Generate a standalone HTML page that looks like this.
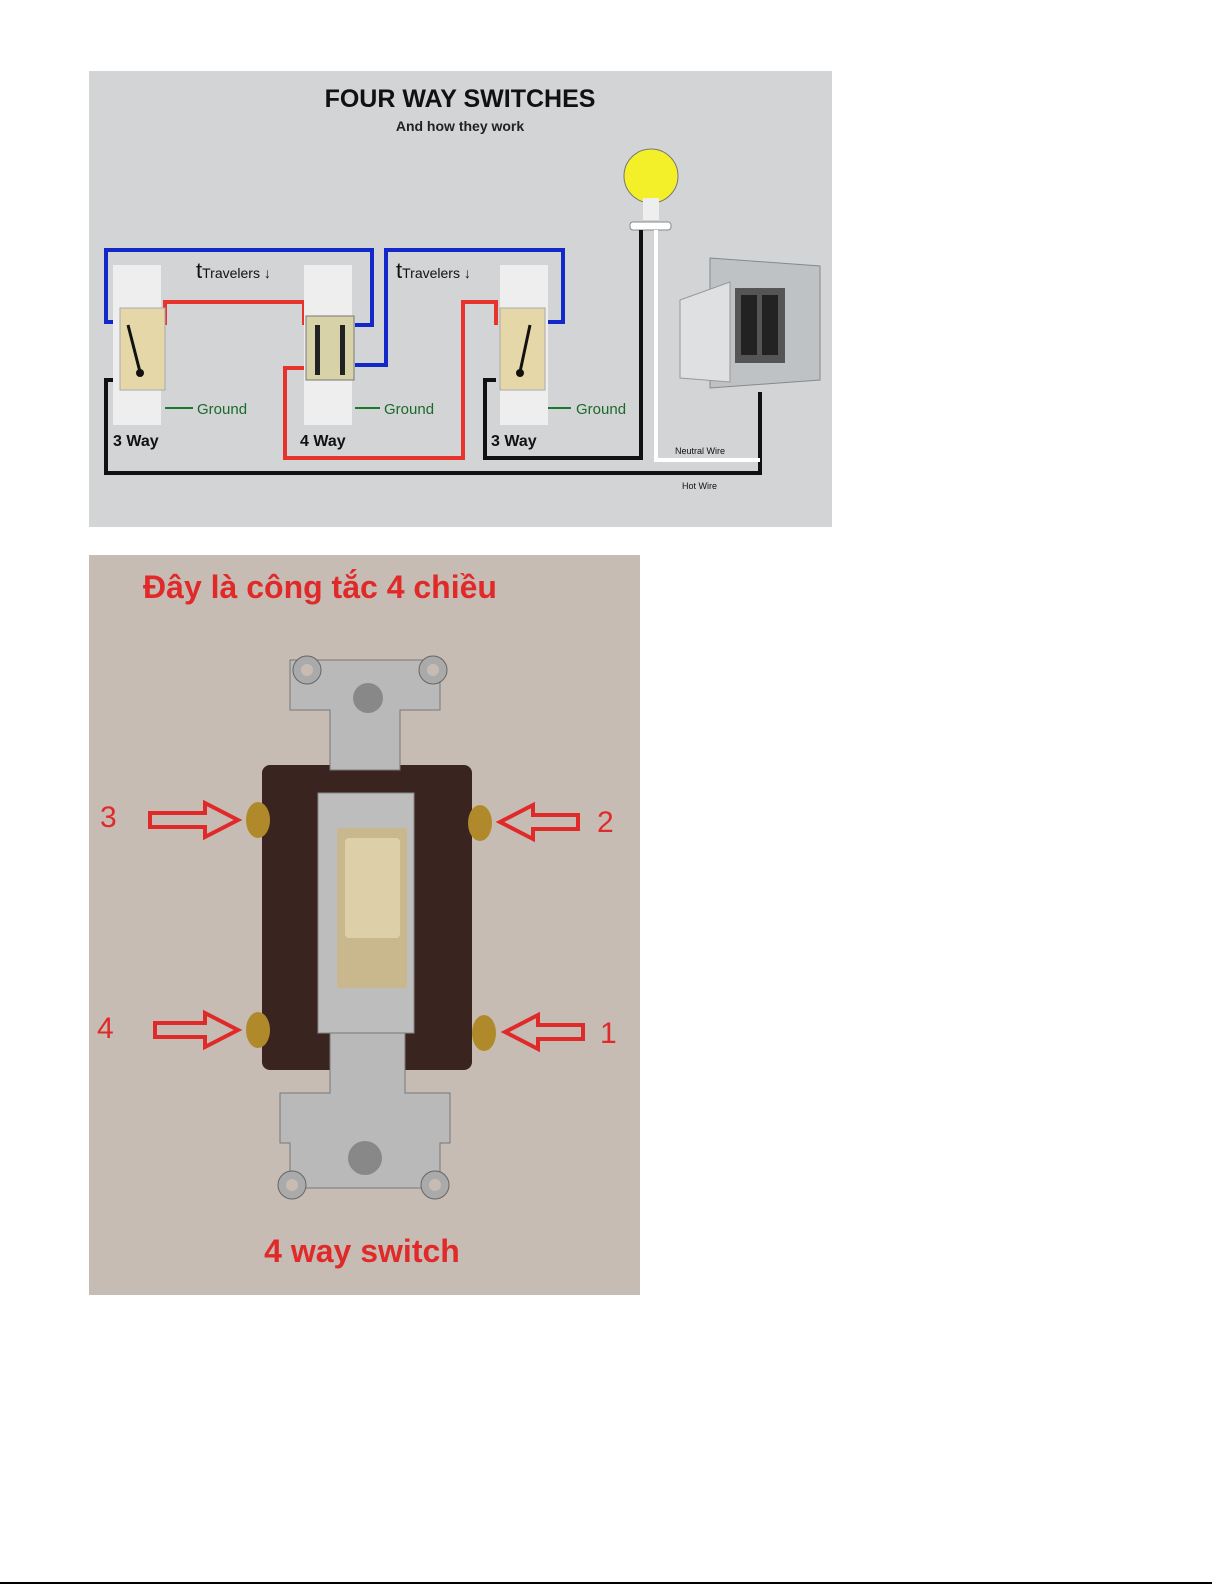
<!DOCTYPE html>
<html><head><meta charset="utf-8"><style>
html,body{margin:0;padding:0;background:#fff;width:1225px;height:1585px;overflow:hidden}
svg{display:block}
</style></head><body>
<svg width="1225" height="1585" viewBox="0 0 1225 1585" xmlns="http://www.w3.org/2000/svg" font-family="Liberation Sans, sans-serif">
<rect x="89" y="71" width="743" height="456" fill="#d3d4d6"/>
<text x="460" y="107" text-anchor="middle" font-size="25" font-weight="bold" fill="#111">FOUR WAY SWITCHES</text>
<text x="460" y="131" text-anchor="middle" font-size="14" font-weight="bold" fill="#222">And how they work</text>
<circle cx="651" cy="176" r="27" fill="#f3f02a" stroke="#777" stroke-width="1"/>
<rect x="643" y="198" width="16" height="22" fill="#eee"/>
<rect x="630" y="222" width="41" height="8" rx="3" fill="#fff" stroke="#888"/>
<polygon points="710,258 820,266 820,380 710,388" fill="#bfc2c4" stroke="#888"/>
<polygon points="680,300 730,282 730,382 680,378" fill="#dfe0e1" stroke="#999"/>
<rect x="735" y="288" width="50" height="75" fill="#555"/>
<rect x="741" y="295" width="16" height="60" fill="#222"/><rect x="762" y="295" width="16" height="60" fill="#222"/>
<g fill="none" stroke-width="4">
<polyline points="120,322 106,322 106,250 372,250 372,325 355,325" stroke="#1328c8"/>
<polyline points="355,365 386,365 386,250 563,250 563,322 545,322" stroke="#1328c8"/>
<polyline points="165,325 165,302 304,302 304,325" stroke="#e8322c"/>
<polyline points="304,368 285,368 285,458 463,458 463,302 496,302 496,325" stroke="#e8322c"/>
<polyline points="120,380 106,380 106,473 760,473 760,392" stroke="#111"/>
<polyline points="496,380 485,380 485,458 641,458 641,230" stroke="#111"/>
<polyline points="656,230 656,460 760,460" stroke="#fff"/>
<g stroke="#1a7a2a" stroke-width="2"><line x1="165" y1="408" x2="193" y2="408"/><line x1="355" y1="408" x2="380" y2="408"/><line x1="545" y1="408" x2="571" y2="408"/></g>
</g>
<g>
<rect x="113" y="265" width="48" height="160" fill="#eee"/>
<rect x="120" y="308" width="45" height="82" fill="#e6d7a8" stroke="#aaa"/>
<line x1="128" y1="325" x2="140" y2="372" stroke="#111" stroke-width="3"/><circle cx="140" cy="373" r="4" fill="#111"/>
<rect x="304" y="265" width="48" height="160" fill="#eee"/>
<rect x="306" y="316" width="48" height="64" fill="#d8d2a8" stroke="#777"/>
<rect x="315" y="325" width="5" height="50" fill="#222"/><rect x="340" y="325" width="5" height="50" fill="#222"/>
<rect x="500" y="265" width="48" height="160" fill="#eee"/>
<rect x="500" y="308" width="45" height="82" fill="#e6d7a8" stroke="#aaa"/>
<line x1="530" y1="325" x2="520" y2="372" stroke="#111" stroke-width="3"/><circle cx="520" cy="373" r="4" fill="#111"/>
</g>
<g font-size="15" fill="#1a6a2a"><text x="197" y="414">Ground</text><text x="384" y="414">Ground</text><text x="576" y="414">Ground</text></g>
<g font-size="16" font-weight="bold" fill="#111"><text x="113" y="446">3 Way</text><text x="300" y="446">4 Way</text><text x="491" y="446">3 Way</text></g>
<g font-size="14" fill="#111"><text x="196" y="278"><tspan font-size="22">t</tspan>Travelers ↓</text><text x="396" y="278"><tspan font-size="22">t</tspan>Travelers ↓</text></g>
<text x="675" y="454" font-size="9" fill="#111">Neutral Wire</text>
<text x="682" y="489" font-size="9" fill="#111">Hot Wire</text>
<rect x="89" y="555" width="551" height="740" fill="#c7bcb3"/>
<text x="320" y="598" text-anchor="middle" font-size="32" font-weight="bold" fill="#e02a2a" font-family="Liberation Sans, DejaVu Sans, sans-serif">Đây là công tắc 4 chiều</text>
<rect x="262" y="765" width="210" height="305" rx="8" fill="#3a2420"/>
<path d="M290,660 h150 v50 h-40 v60 h-70 v-60 h-40z" fill="#b9b9b9" stroke="#777"/>
<circle cx="307" cy="670" r="14" fill="#aaa" stroke="#666"/><circle cx="307" cy="670" r="6" fill="#c7bcb3"/>
<circle cx="433" cy="670" r="14" fill="#aaa" stroke="#666"/><circle cx="433" cy="670" r="6" fill="#c7bcb3"/>
<circle cx="368" cy="698" r="15" fill="#888"/>
<rect x="318" y="793" width="96" height="240" fill="#bdbdbd" stroke="#888"/>
<rect x="337" y="828" width="70" height="160" fill="#c9b78e"/>
<rect x="345" y="838" width="55" height="100" rx="4" fill="#ddcfa7"/>
<path d="M330,1033 h75 v60 h45 v50 h-10 v45 h-150 v-45 h-10 v-50 h50z" fill="#b9b9b9" stroke="#777"/>
<circle cx="365" cy="1158" r="17" fill="#888"/>
<circle cx="292" cy="1185" r="14" fill="#aaa" stroke="#666"/><circle cx="292" cy="1185" r="6" fill="#c7bcb3"/>
<circle cx="435" cy="1185" r="14" fill="#aaa" stroke="#666"/><circle cx="435" cy="1185" r="6" fill="#c7bcb3"/>
<g fill="#b08a2a"><ellipse cx="258" cy="820" rx="12" ry="18"/><ellipse cx="480" cy="823" rx="12" ry="18"/><ellipse cx="258" cy="1030" rx="12" ry="18"/><ellipse cx="484" cy="1033" rx="12" ry="18"/></g>
<g fill="none" stroke="#e02a2a" stroke-width="4">
<path d="M150,813 h55 v-10 l33,17 -33,17 v-10 h-55z"/>
<path d="M578,815 h-45 v-10 l-33,17 33,17 v-10 h45z"/>
<path d="M155,1023 h50 v-10 l33,17 -33,17 v-10 h-50z"/>
<path d="M583,1025 h-45 v-10 l-33,17 33,17 v-10 h45z"/>
</g>
<g font-size="30" fill="#e02a2a"><text x="100" y="827">3</text><text x="597" y="832">2</text><text x="97" y="1038">4</text><text x="600" y="1043">1</text></g>
<text x="362" y="1262" text-anchor="middle" font-size="32" font-weight="bold" fill="#e02a2a">4 way switch</text>
<line x1="0" y1="1583" x2="1212" y2="1583" stroke="#000" stroke-width="2"/>
</svg>
</body></html>
